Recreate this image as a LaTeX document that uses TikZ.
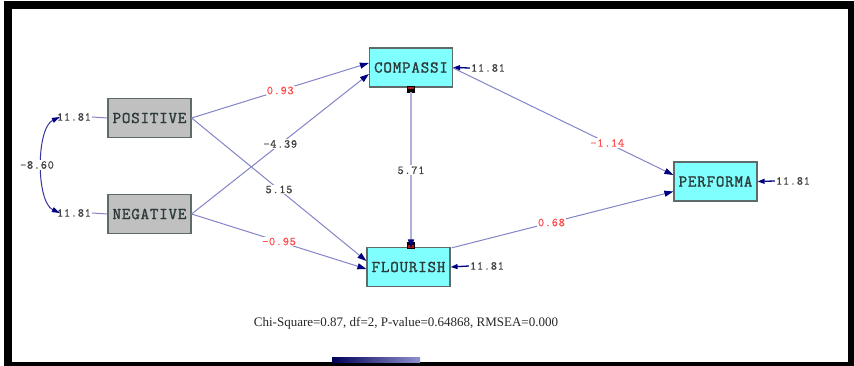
\documentclass[tikz,border=0pt]{standalone}
\usepackage{fontspec}
\setmainfont{Liberation Serif}
\newfontfamily\boxfont[FakeBold=1.6,LetterSpace=5]{Latin Modern Mono}
\newfontfamily\numfont[FakeBold=0.6,LetterSpace=6]{Latin Modern Mono}
\usetikzlibrary{arrows.meta,calc}

\definecolor{pathblue}{HTML}{8484C8}
\definecolor{tipnavy}{HTML}{000080}
\definecolor{exogray}{HTML}{C0C0C0}
\definecolor{endocyan}{HTML}{80FFFF}
\definecolor{boxedge}{HTML}{5F6B6B}
\definecolor{boxtext}{HTML}{2E3A3A}
\definecolor{numgray}{HTML}{404040}
\definecolor{estred}{HTML}{FF4D4D}
\definecolor{pinred}{HTML}{B01818}

\begin{document}
\begin{tikzpicture}[x=1pt,y=-1pt,
  varbox/.style={draw=boxedge, line width=1.2pt, minimum width=83pt,
    minimum height=39pt, inner sep=0pt,
    font=\boxfont\fontsize{16.5}{17}\selectfont, text=boxtext},
  exo/.style={varbox, fill=exogray},
  endo/.style={varbox, fill=endocyan},
  num/.style={font=\numfont\fontsize{12}{13}\selectfont, text=numgray, inner sep=1pt},
  est/.style={num, fill=white},
  negest/.style={est, text=estred},
  conn/.style={draw=pathblue, line width=1pt,
    -{Triangle[length=9pt,width=6pt,color=tipnavy]}},
  errarrow/.style={draw=tipnavy, line width=1.3pt, -{Triangle[length=7pt,width=5pt]}},
  pinbox/.style={minimum width=7pt, minimum height=6pt, inner sep=0pt, draw=black, line width=0.6pt},
  redtop/.style={pinbox, fill=black, path picture={\fill[pinred]
    (path picture bounding box.north west) rectangle (path picture bounding box.east);}},
  redbottom/.style={pinbox, fill=black, path picture={\fill[pinred]
    (path picture bounding box.west) rectangle (path picture bounding box.south east);}},
]
% page and black frame
\useasboundingbox (0,0) rectangle (854,366);
\fill[black] (4,1) rectangle (854,366);
\fill[white] (12,9) rectangle (848,362);

% variables
\node[exo]  (pos)  at (149.5,118) {POSITIVE};
\node[exo]  (neg)  at (149.5,214) {NEGATIVE};
\node[endo] (com)  at (411,67.5)  {COMPASSI};
\node[endo] (flo)  at (408.5,267) {FLOURISH};
\node[endo] (perf) at (715.5,181.5) {PERFORMA};

% variances of the exogenous variables and their covariance
\node[num] (pe) at (74,117) {11.81};
\node[num] (ne) at (74,213) {11.81};
\draw[pathblue, line width=1pt] (pe.east) -- (pos.west);
\draw[pathblue, line width=1pt] (ne.east) -- (neg.west);
\draw[draw=tipnavy!60!pathblue, line width=1pt,
  {Triangle[length=8pt,width=5pt,color=tipnavy]}-{Triangle[length=8pt,width=5pt,color=tipnavy]}]
  ([xshift=4pt]pe.west) .. controls (36,128) and (36,202) .. ([xshift=4pt]ne.west)
  node[est, pos=0.5, xshift=-5pt] {-8.60};

% error variances of the endogenous variables
\node[num] (ce) at (488,68)  {11.81};
\node[num] (fe) at (487,266) {11.81};
\node[num] (re) at (793,181) {11.81};
\draw[errarrow] (ce.west) -- (com.east);
\draw[errarrow] (fe.west) -- (flo.east);
\draw[errarrow] (re.west) -- (perf.east);

% structural paths
\draw[conn] (pos.east) -- ([yshift=4.5pt]com.west) node[negest, pos=0.5] {0.93};
\draw[conn] (neg.east) -- ([yshift=-6.5pt]com.west) node[est, pos=0.5] {-4.39};
\draw[conn] (pos.east) -- ([yshift=6pt]flo.west) node[est, pos=0.5] {5.15};
\draw[conn] (neg.east) -- ([yshift=-2pt]flo.west) node[negest, pos=0.5] {-0.95};
\draw[conn] ([yshift=-0.5pt]com.east) -- ([yshift=6.5pt]perf.west) node[negest, pos=0.7] {-1.14};
\draw[conn] ([xshift=1pt,yshift=-1pt]flo.north east) -- ([yshift=-10pt]perf.west) node[negest, pos=0.45] {0.68};

% path from COMPASSI to FLOURISH with its end markers
\node[redtop] (cm) at (411,89) {};
\node[redbottom] (fm) at (411,245) {};
\draw[conn, draw=pathblue!65!white, line width=1.6pt] (cm.south) -- (fm.south) node[est, pos=0.5] {5.71};

% fit statistics
\node[text=black!85, font=\fontsize{13}{14}\selectfont, inner sep=0pt] (fit) at (406,323)
  {Chi-Square=0.87, df=2, P-value=0.64868, RMSEA=0.000};

% strip of a window edge at the lower border
\shade[left color=tipnavy!70!black, right color=pathblue!90!white] (332,357) rectangle (420,362);
\end{tikzpicture}
\end{document}
